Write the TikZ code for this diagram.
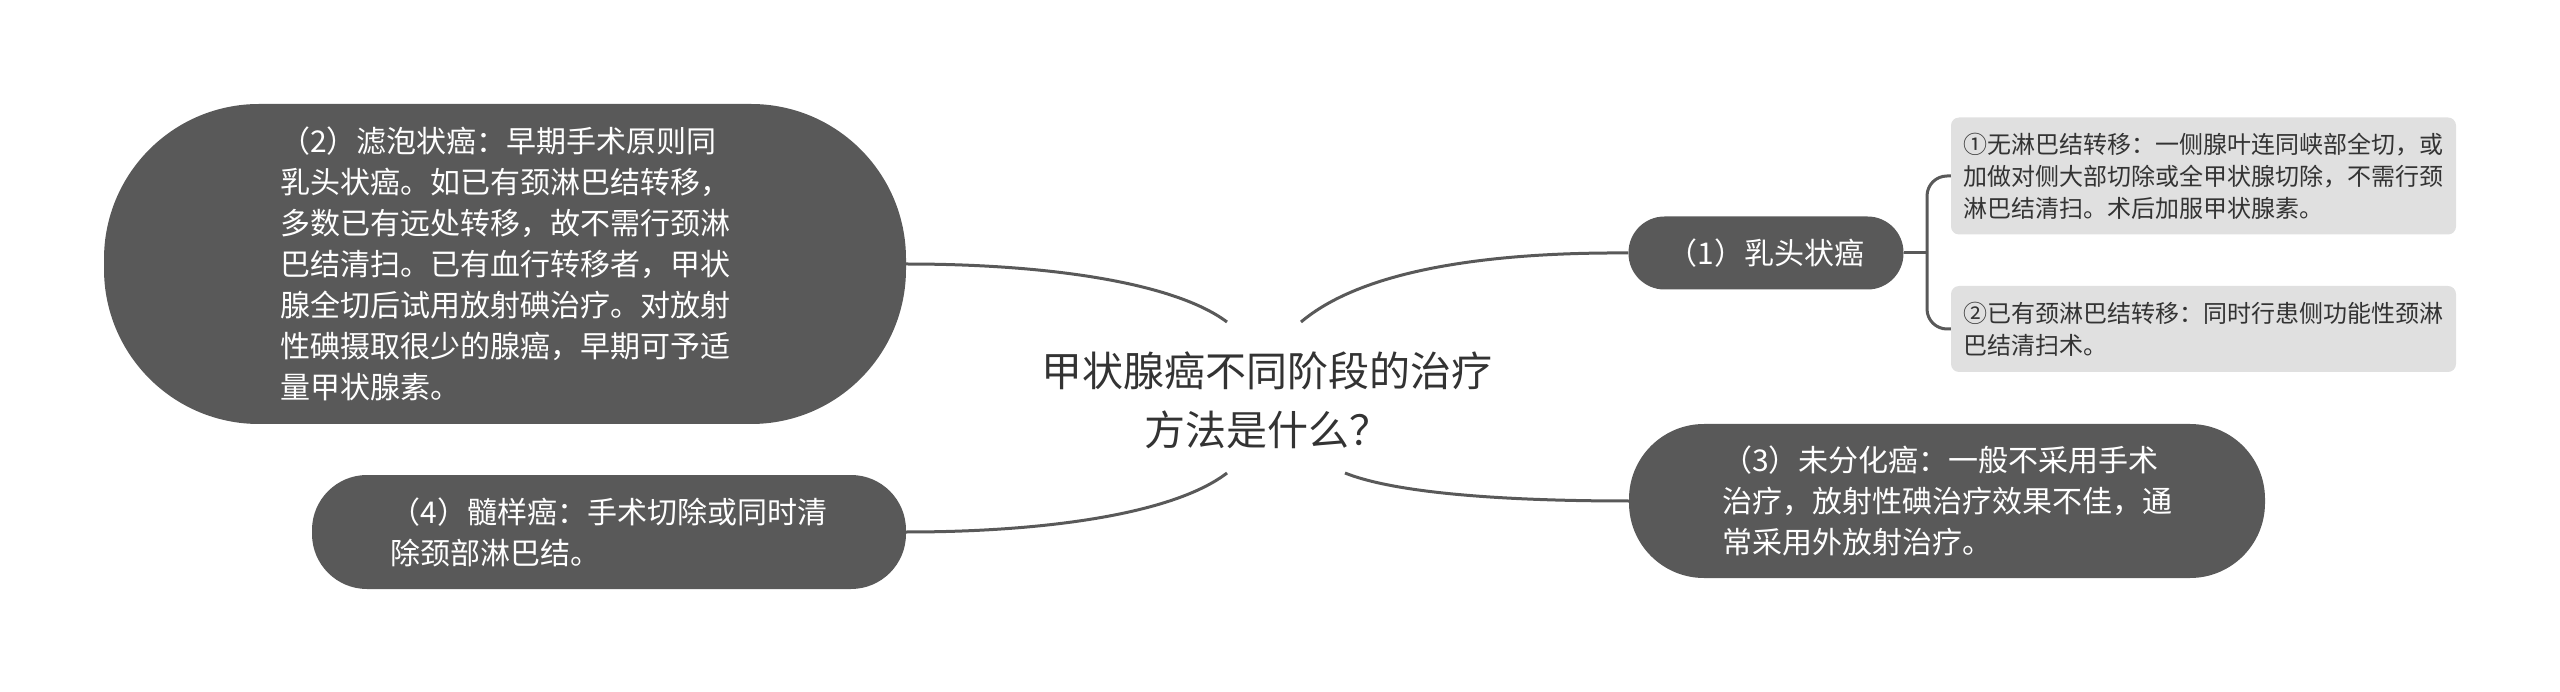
\documentclass[tikz,border=0pt]{standalone}
\usepackage{fontspec}
\setmainfont{Noto Sans CJK SC}
\usepackage{xcolor}
\usetikzlibrary{positioning}
\definecolor{nodegray}{HTML}{595959}
\definecolor{leafgray}{HTML}{E0E0E0}
\definecolor{inkgray}{HTML}{333333}

\begin{document}
\begin{tikzpicture}[x=1pt,y=-1pt,
                  branch/.style={rectangle,fill=nodegray,text=white,rounded corners=#1,inner sep=0pt,
                    align=left,font=\fontsize{30}{41}\selectfont},
                  leaf/.style={rectangle,fill=leafgray,text=inkgray,rounded corners=8pt,inner sep=0pt,
                    minimum width=505pt,align=left,font=\fontsize{24}{32}\selectfont},
                  link/.style={draw=nodegray,line width=3pt}
                  ]
                  \useasboundingbox (0,0) rectangle (2560,692);
                  \node[text=inkgray,align=center,font=\fontsize{41}{59}\selectfont] (C) at (1267,400)
                    {甲状腺癌不同阶段的治疗\\方法是什么？};
                  \node[branch=36pt,minimum width=275pt,minimum height=73pt] (B1) at (1766,253) {（1）乳头状癌};
                  \node[branch=155pt,minimum width=802pt,minimum height=320pt] (B2) at (505,264)
                    {（2）滤泡状癌：早期手术原则同\\乳头状癌。如已有颈淋巴结转移，\\多数已有远处转移，故不需行颈淋\\巴结清扫。已有血行转移者，甲状\\腺全切后试用放射碘治疗。对放射\\性碘摄取很少的腺癌，早期可予适\\量甲状腺素。};
                  \node[branch=75pt,minimum width=636pt,minimum height=154pt] (B3) at (1947,501)
                    {（3）未分化癌：一般不采用手术\\治疗，放射性碘治疗效果不佳，通\\常采用外放射治疗。};
                  \node[branch=55pt,minimum width=594pt,minimum height=114pt] (B4) at (609,532)
                    {（4）髓样癌：手术切除或同时清\\除颈部淋巴结。};
                  \node[leaf,minimum height=117pt] (L1) at (2203.5,176)
                    {①无淋巴结转移：一侧腺叶连同峡部全切，或\\加做对侧大部切除或全甲状腺切除，不需行颈\\淋巴结清扫。术后加服甲状腺素。};
                  \node[leaf,minimum height=86pt] (L2) at (2203.5,329)
                    {②已有颈淋巴结转移：同时行患侧功能性颈淋\\巴结清扫术。};
                  \coordinate (C1) at (1301,322);
                  \coordinate (C2) at (1227,322);
                  \coordinate (C3) at (1345,473);
                  \coordinate (C4) at (1227,473);
                  \coordinate (J1) at (1927,253);
                  \draw[link] (C1) .. controls (1360,272) and (1480,252) .. (B1.west);
                  \draw[link] (C2) .. controls (1175,283) and (1050,264) .. (B2.east);
                  \draw[link] (C3) .. controls (1400,495) and (1520,501) .. (B3.west);
                  \draw[link] (C4) .. controls (1175,513) and (1050,532) .. (B4.east);
                  \draw[link] (B1.east) -- (J1);
                  \draw[link,rounded corners=20pt] (L1.west) -| (J1) |- (L2.west);
                \end{tikzpicture}
\end{document}
